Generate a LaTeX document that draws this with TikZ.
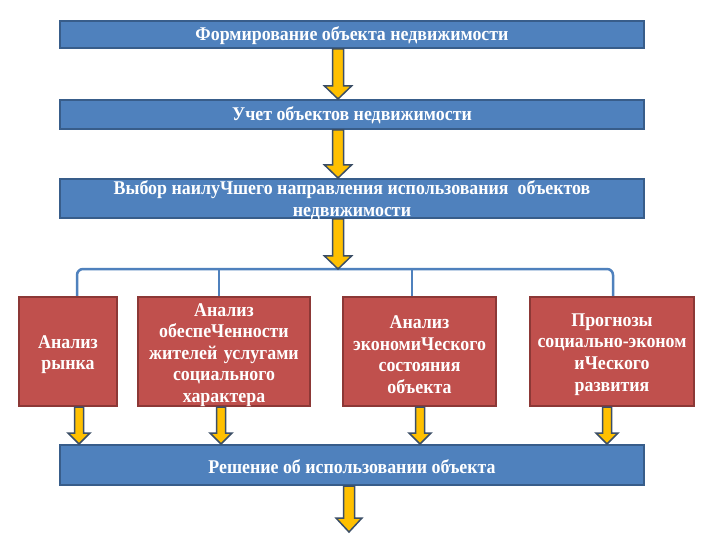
\documentclass[tikz,border=0pt]{standalone}
\usepackage{fontspec}
\setmainfont{Liberation Serif}[FakeStretch=0.92]
\usetikzlibrary{calc}
\definecolor{bfill}{HTML}{4F81BD}
\definecolor{bline}{HTML}{385D8A}
\definecolor{rfill}{HTML}{C0504D}
\definecolor{rline}{HTML}{8C3836}
\definecolor{ayellow}{HTML}{FFC000}
\definecolor{aline}{HTML}{3B4E66}
\tikzset{
  boxfont/.style={font=\bfseries\fontsize{19.5}{21.7}\selectfont},
  bluebox/.style={draw=bline, line width=2bp, fill=bfill,
    minimum width=584bp, inner sep=0pt},
  redbox/.style={draw=rline, line width=2bp, fill=rfill,
    minimum height=109bp, inner sep=0pt},
  boxtext/.style={text=white, boxfont, inner sep=0pt, align=center},
  fatarrow/.style={draw=aline, line width=1.5bp, fill=ayellow, line join=miter},
  bracketline/.style={draw=bfill, line width=2.5bp, rounded corners=6bp}
}
\newcommand\yarr[5]{%
  \path[fatarrow] let \p1=(#1), \p2=(#2) in
    (\x1-#3,\y1) -- (\x1-#3,\y2+#5) -- (\x1-#4,\y2+#5) -- (\x1,\y2)
    -- (\x1+#4,\y2+#5) -- (\x1+#3,\y2+#5) -- (\x1+#3,\y1) -- cycle;}
\begin{document}
\begin{tikzpicture}[x=1bp,y=-1bp]
\fill[white] (0,0) rectangle (720,540);
\useasboundingbox (0,0) rectangle (720,540);

\node[bluebox, minimum height=27bp] (b1) at (352,34.5) {};
\node[boxtext] (b1t) at ($(b1.center)+(0,1.5)$) {Формирование объекта недвижимости};
\node[bluebox, minimum height=29bp] (b2) at (352,114.5) {};
\node[boxtext] (b2t) at ($(b2.center)+(0,1)$) {Учет объектов недвижимости};
\node[bluebox, minimum height=39bp] (b3) at (352,198.5) {};
\node[boxtext] (b3t) at ($(b3.center)+(0,2)$) {Выбор наилуЧшего направления использования \ объектов\\недвижимости};

\node[redbox, minimum width=98bp] (r1) at (68,351.5) {};
\node[boxtext, text width=98bp] (r1t) at ($(r1.center)+(0,3)$) {Анализ\\рынка};
\node[redbox, minimum width=172bp] (r2) at (224,351.5) {};
\node[boxtext, text width=172bp] (r2t) at ($(r2.center)+(0,3.5)$) {Анализ\\обеспеЧенности\\жителей услугами\\социального\\характера};
\node[redbox, minimum width=153bp] (r3) at (419.5,351.5) {};
\node[boxtext, text width=153bp] (r3t) at ($(r3.center)+(0,3)$) {Анализ\\экономиЧеского\\состояния\\объекта};
\node[redbox, minimum width=164bp] (r4) at (612,351.5) {};
\node[boxtext, text width=164bp] (r4t) at ($(r4.center)+(0,3)$) {Прогнозы\\социально-эконом\\иЧеского\\развития};

\node[bluebox, minimum height=40bp] (b5) at (352,465) {};
\node[boxtext] (b5t) at ($(b5.center)+(0,1.5)$) {Решение об использовании объекта};

\coordinate (ax) at (338,0);
\coordinate (bl) at (77,269);
\coordinate (br) at (613,269);
\coordinate (bt) at (338,269);
\coordinate (t2) at (219,269);
\coordinate (t3) at (412,269);
\coordinate (c1) at (79,0);
\coordinate (c2) at (221,0);
\coordinate (c3) at (420,0);
\coordinate (c4) at (607,0);
\coordinate (fin) at (349,532);

\draw[bracketline] (r1.north -| bl) -- (bl) -- (br) -- (r4.north -| br);
\draw[bracketline] (t2) -- (t2 |- r2.north);
\draw[bracketline] (t3) -- (t3 |- r3.north);

\yarr{b1.south -| ax}{b2.north -| ax}{5.5bp}{13.5bp}{13bp}
\yarr{b2.south -| ax}{b3.north -| ax}{5.5bp}{13.5bp}{13bp}
\yarr{b3.south -| ax}{bt}{5.5bp}{13.5bp}{13bp}

\yarr{r1.south -| c1}{b5.north -| c1}{4.5bp}{11bp}{11bp}
\yarr{r2.south -| c2}{b5.north -| c2}{4.5bp}{11bp}{11bp}
\yarr{r3.south -| c3}{b5.north -| c3}{4.5bp}{11bp}{11bp}
\yarr{r4.south -| c4}{b5.north -| c4}{4.5bp}{11bp}{11bp}

\yarr{b5.south -| fin}{fin}{5.5bp}{13bp}{14bp}
\end{tikzpicture}
\end{document}
